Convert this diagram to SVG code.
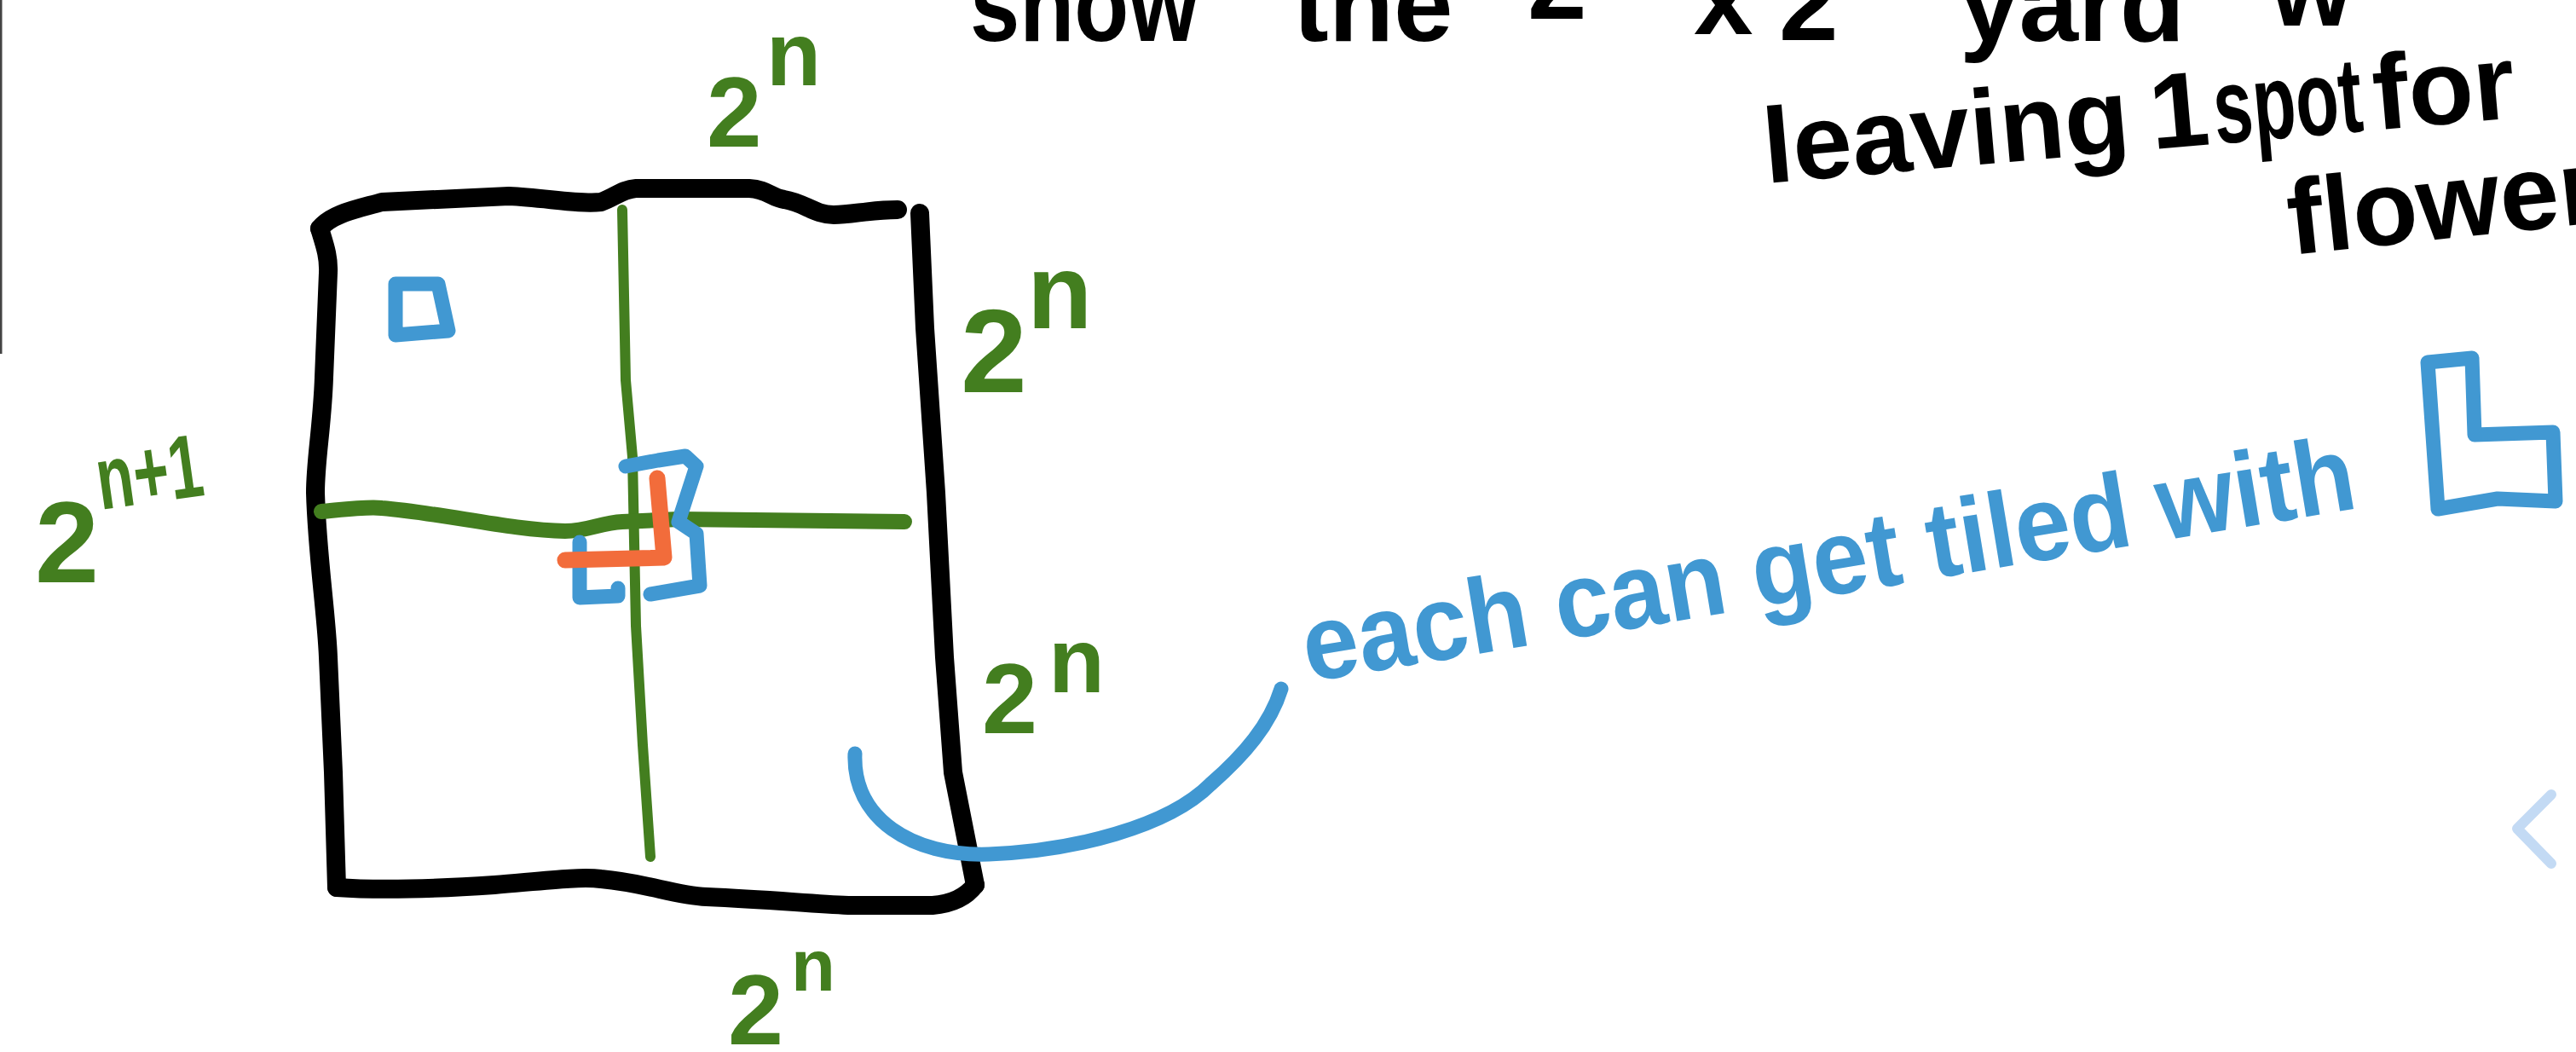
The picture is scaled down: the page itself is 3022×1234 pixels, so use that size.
<svg xmlns="http://www.w3.org/2000/svg" width="3022" height="1234" viewBox="0 0 3022 1234">
<style>
  .ink{fill:none;stroke-linecap:round;stroke-linejoin:round}
  .blk{stroke:#000;stroke-width:22}
  .grn{stroke:#437E1F}
  .blu{stroke:#4198D2;stroke-width:17}
  .org{stroke:#F26C3B;stroke-width:19}
  .tb{font-family:"Liberation Sans",Arial,sans-serif;font-weight:700;fill:#000;font-size:125px}
  .tg{font-family:"Liberation Sans",Arial,sans-serif;font-weight:700;fill:#437E1F}
  .tbl{font-family:"Liberation Sans",Arial,sans-serif;font-weight:700;fill:#4198D2}
</style>
<rect width="3022" height="1234" fill="#fff"/>
<line x1="1" y1="0" x2="1" y2="415" stroke="#444" stroke-width="3"/>

<g id="note-top">
  <text class="tb" y="48"><tspan x="1138" textLength="268" lengthAdjust="spacingAndGlyphs">show</tspan><tspan x="1517">the</tspan><tspan x="1792" y="22">2</tspan><tspan x="1987" y="40">x</tspan><tspan x="2087" y="47">2</tspan><tspan x="2299" y="48">yard</tspan><tspan x="2663" y="30">w</tspan></text>
  <g transform="translate(2072,215) rotate(-5)">
    <text class="tb" x="0" y="0">leaving</text>
    <text class="tb" x="455" y="0">1</text>
    <text class="tb" x="530" y="0" textLength="175" lengthAdjust="spacingAndGlyphs">spot</text>
    <text class="tb" x="718" y="0">for</text>
  </g>
  <text class="tb" transform="translate(2688,299) rotate(-6)">flower</text>
</g>

<g id="grid">
  <path class="ink blk" d="M375,268 C390,250 420,245 448,237 L597,230 C640,232 680,240 705,237 C720,232 730,222 746,221 L879,221 C900,222 905,232 920,234 C945,238 955,252 978,252 C1000,252 1020,246 1053,246"/>
  <path class="ink blk" d="M375,268 C380,285 386,300 385,320 L380,443 C378,500 370,540 370,578 C372,650 383,720 385,771 L391,906 L395,1041"/>
  <path class="ink blk" d="M395,1041 C450,1045 520,1042 580,1038 C640,1033 680,1028 705,1031 C760,1036 790,1050 829,1052 C900,1055 950,1060 995,1062 L1094,1062 C1120,1060 1135,1050 1144,1038"/>
  <path class="ink blk" d="M1079,250 L1085,385 L1098,578 L1108,771 L1118,906 L1144,1038"/>
  <path class="ink grn" stroke-width="12" d="M730,246 L734,446 L742,536 L746,734 L754,874 L763,1005"/>
  <path class="ink grn" stroke-width="18" d="M377,600 C400,598 430,594 448,596 C520,602 600,622 663,623 C690,623 705,613 730,612 L796,609 L1061,612"/>
</g>

<g id="missing-square">
  <path class="ink blu" d="M464,333 L514,333 L526,388 L464,393 Z"/>
</g>

<g id="center-tromino">
  <path class="ink blu" d="M734,547 L772,540 L804,535 L817,547 L796,612 L817,626 L821,687 L763,697"/>
  <path class="ink blu" d="M680,636 L680,701 L725,699 L725,690"/>
  <path class="ink org" d="M771,561 L779,654 L663,657"/>
</g>

<g id="labels">
  <text class="tg" font-size="116" x="829" y="172">2</text>
  <text class="tg" font-size="105" x="899" y="100">n</text>
  <text class="tg" font-size="140" x="1127" y="460">2</text>
  <text class="tg" font-size="125" x="1205" y="385">n</text>
  <text class="tg" font-size="135" x="41" y="683">2</text>
  <text class="tg" font-size="105" transform="translate(118,598) rotate(-8)" textLength="125" lengthAdjust="spacingAndGlyphs">n+1</text>
  <text class="tg" font-size="117" x="1152" y="860">2</text>
  <text class="tg" font-size="108" x="1230" y="812">n</text>
  <text class="tg" font-size="117" x="854" y="1225">2</text>
  <text class="tg" font-size="85" x="928" y="1162">n</text>
</g>

<g id="connectors">
  <path class="ink blu" stroke-width="16" d="M1003,884 C1000,960 1070,1005 1160,1002 C1260,998 1370,970 1420,920 C1460,885 1490,850 1503,808"/>
</g>

<g id="note-tiled">
  <text class="tbl" font-size="125" transform="translate(1535,800) rotate(-9.4)" textLength="1250" lengthAdjust="spacingAndGlyphs">each can get tiled with</text>
  <path class="ink blu" d="M2848,425 L2900,420 L2903,510 L2995,507 L2998,588 L2930,585 L2860,597 Z"/>
</g>

<path class="ink" stroke="#C3DAF4" stroke-width="12" d="M2993,932 L2953,972 L2993,1013"/>
</svg>
